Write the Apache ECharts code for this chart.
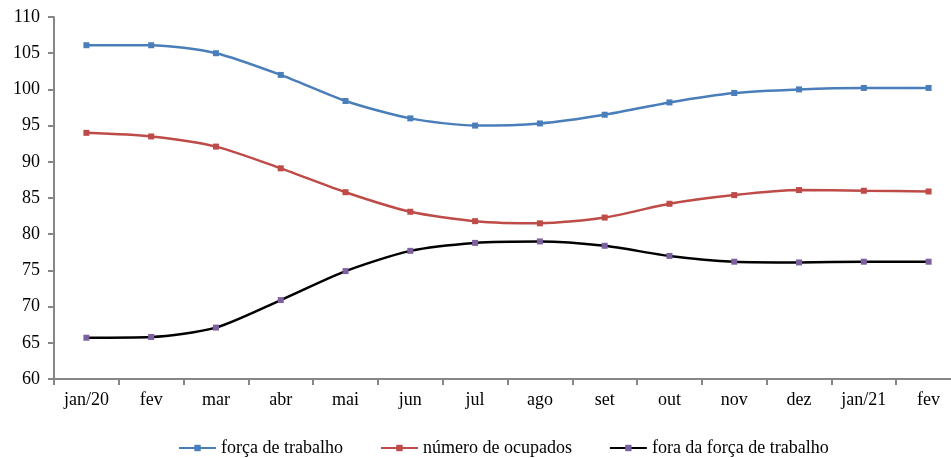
<!DOCTYPE html>
<html>
<head>
<meta charset="utf-8">
<script src="https://cdn.jsdelivr.net/npm/echarts@6/dist/echarts.min.js"></script>
<style>
  html, body { margin: 0; padding: 0; background: #fff; overflow: hidden; }
  #chart { width: 951px; height: 458px; }
</style>
</head>
<body>
<div id="chart"></div>
<script>
// Months from Jan 2020 to Feb 2021
const categories = ['jan/20', 'fev', 'mar', 'abr', 'mai', 'jun', 'jul', 'ago', 'set', 'out', 'nov', 'dez', 'jan/21', 'fev'];

// Index values per month
const forcaTrabalho = [106.1, 106.1, 105.0, 102.0, 98.4, 96.0, 95.0, 95.3, 96.5, 98.2, 99.5, 100.0, 100.2, 100.2];
const numeroOcupados = [94.0, 93.5, 92.1, 89.1, 85.8, 83.1, 81.8, 81.5, 82.3, 84.2, 85.4, 86.1, 86.0, 85.9];
const foraForca = [65.7, 65.8, 67.1, 70.9, 74.9, 77.7, 78.8, 79.0, 78.4, 77.0, 76.2, 76.1, 76.2, 76.2];

const seriesNames = ['força de trabalho', 'número de ocupados', 'fora da força de trabalho'];

const fontFamily = '"Liberation Serif", "Times New Roman", serif';
const axisGray = '#868686';

function lineSeries(name, data, lineColor, markerColor) {
  return {
    name: name,
    type: 'line',
    data: data,
    smooth: 0.25,
    symbol: 'rect',
    symbolSize: 6,
    showSymbol: true,
    lineStyle: { color: lineColor, width: 2.5 },
    itemStyle: { color: markerColor, borderWidth: 0 },
    emphasis: { disabled: true }
  };
}

const chart = echarts.init(document.getElementById('chart'), null, { renderer: 'canvas' });
chart.setOption({
  animation: false,
  backgroundColor: '#ffffff',
  textStyle: { fontFamily: fontFamily },
  // the last band runs past the right edge of the canvas
  grid: { left: 54, width: 907, top: 17, bottom: 79, containLabel: false, outerBoundsMode: 'none' },
  legend: {
    top: 434,
    left: 173,
    itemWidth: 37,
    itemHeight: 8,
    itemGap: 37,
    textStyle: { fontFamily: fontFamily, fontSize: 18, color: '#000' },
    data: seriesNames
  },
  xAxis: {
    type: 'category',
    data: categories,
    boundaryGap: true,
    axisLine: { lineStyle: { color: axisGray, width: 2 } },
    axisTick: { show: true, length: 6, lineStyle: { color: axisGray, width: 2 } },
    axisLabel: { color: '#000', fontSize: 18, fontFamily: fontFamily, margin: 12, interval: 0 },
    splitLine: { show: false }
  },
  yAxis: {
    type: 'value',
    min: 60,
    max: 110,
    interval: 5,
    axisLine: { show: true, lineStyle: { color: axisGray, width: 2 } },
    axisTick: { show: true, length: 6, lineStyle: { color: axisGray, width: 2 } },
    axisLabel: { color: '#000', fontSize: 18, fontFamily: fontFamily, margin: 14 },
    splitLine: { show: false }
  },
  series: [
    lineSeries(seriesNames[0], forcaTrabalho, '#4A7EBB', '#4A7EBB'),
    lineSeries(seriesNames[1], numeroOcupados, '#BE4B48', '#BE4B48'),
    lineSeries(seriesNames[2], foraForca, '#000000', '#7D60A0')
  ]
});
</script>
</body>
</html>
